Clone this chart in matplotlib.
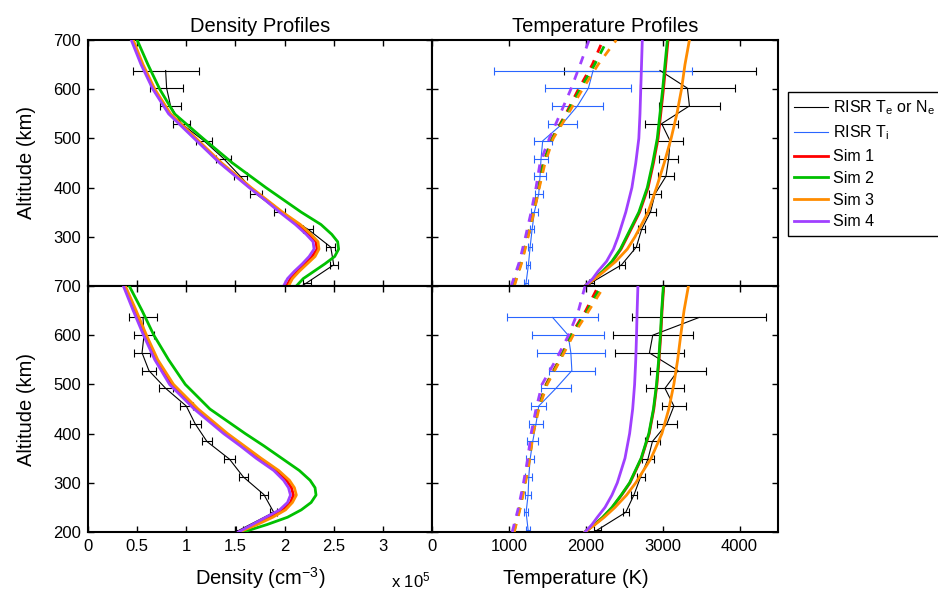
import numpy as np
import matplotlib.pyplot as plt
from matplotlib.lines import Line2D

plt.rcParams['font.family'] = ['Liberation Sans', 'DejaVu Sans']
plt.rcParams['mathtext.default'] = 'regular'

# RISR measurement altitudes (km), top run and bottom run
alt_obs_top = [638, 602, 566, 530, 495, 459, 423, 387, 351, 315, 279, 243, 207, 172]
alt_obs_bot = [636, 600, 564, 528, 492, 456, 420, 384, 348, 312, 276, 240, 204, 168]

# electron density, units of 1e5 cm^-3
ne_top = [0.79, 0.80, 0.84, 0.95, 1.18, 1.38, 1.55, 1.71, 1.95, 2.24, 2.47, 2.50, 2.23, 1.95]
ne_top_err = [0.335, 0.165, 0.11, 0.085, 0.08, 0.075, 0.065, 0.06, 0.055, 0.05, 0.045, 0.04, 0.04, 0.04]
ne_bot = [0.56, 0.57, 0.55, 0.62, 0.79, 1.00, 1.09, 1.21, 1.44, 1.58, 1.79, 1.89, 1.54, 1.35]
ne_bot_err = [0.145, 0.105, 0.08, 0.075, 0.07, 0.065, 0.055, 0.05, 0.055, 0.045, 0.04, 0.035, 0.035, 0.03]

# electron / ion temperatures (K)
te_top = [2965, 3322, 3348, 2987, 3096, 3078, 3043, 2900, 2843, 2726, 2657, 2465, 2074, 1880]
te_top_err = [1244, 620, 396, 217, 174, 124, 98, 76, 67, 48, 40, 39, 37, 35]
ti_top = [2095, 2034, 1892, 1698, 1440, 1418, 1405, 1388, 1332, 1302, 1276, 1254, 1224, 1195]
ti_top_err = [1290, 560, 330, 183, 117, 87, 72, 52, 43, 30, 28, 26, 22, 20]

te_bot = [3473, 2871, 2828, 3200, 3030, 3146, 3056, 2867, 2808, 2713, 2628, 2520, 2150, 1950]
te_bot_err = [873, 523, 450, 365, 248, 158, 126, 98, 74, 53, 42, 42, 42, 40]
ti_bot = [1569, 1771, 1806, 1819, 1612, 1388, 1353, 1310, 1276, 1259, 1250, 1224, 1250, 1240]
ti_bot_err = [595, 470, 442, 302, 194, 99, 86, 71, 54, 43, 36, 30, 28, 26]

# model density profiles (Sim 1..4)
alt_sim_ne = [200, 215, 230, 245, 260, 275, 290, 305, 325, 350, 375, 400, 450, 500, 550, 600, 650, 700]
sim_ne_top = [
    [2.02, 2.06, 2.13, 2.21, 2.28, 2.33, 2.32, 2.25, 2.14, 1.97, 1.81, 1.65, 1.35, 1.09, 0.83, 0.67, 0.55, 0.45],
    [2.12, 2.19, 2.30, 2.41, 2.51, 2.55, 2.54, 2.48, 2.37, 2.17, 1.99, 1.81, 1.47, 1.17, 0.88, 0.73, 0.61, 0.50],
    [2.04, 2.08, 2.15, 2.23, 2.31, 2.35, 2.34, 2.27, 2.16, 1.98, 1.82, 1.66, 1.36, 1.10, 0.84, 0.68, 0.56, 0.46],
    [1.99, 2.03, 2.10, 2.18, 2.25, 2.30, 2.29, 2.22, 2.11, 1.95, 1.80, 1.64, 1.34, 1.08, 0.82, 0.66, 0.54, 0.44],
]
sim_ne_bot = [
    [1.54, 1.70, 1.85, 1.98, 2.06, 2.09, 2.07, 2.02, 1.92, 1.74, 1.57, 1.40, 1.10, 0.85, 0.70, 0.58, 0.47, 0.37],
    [1.58, 1.82, 2.03, 2.17, 2.27, 2.32, 2.31, 2.26, 2.15, 1.97, 1.79, 1.60, 1.24, 0.99, 0.82, 0.67, 0.55, 0.42],
    [1.54, 1.72, 1.88, 2.01, 2.08, 2.12, 2.10, 2.05, 1.94, 1.76, 1.59, 1.42, 1.12, 0.87, 0.71, 0.595, 0.49, 0.38],
    [1.53, 1.67, 1.81, 1.95, 2.03, 2.06, 2.04, 1.99, 1.89, 1.71, 1.55, 1.38, 1.08, 0.83, 0.68, 0.565, 0.46, 0.36],
]

# model electron temperatures (solid)
alt_sim_te = [200, 215, 230, 250, 275, 300, 350, 400, 450, 500, 550, 600, 650, 700]
sim_te_top = [
    [1990, 2112, 2224, 2346, 2458, 2540, 2700, 2810, 2880, 2940, 2975, 3010, 3040, 3070],
    [1990, 2110, 2220, 2340, 2450, 2530, 2690, 2800, 2870, 2930, 2965, 3000, 3030, 3061],
    [1990, 2120, 2240, 2390, 2540, 2640, 2810, 2920, 3020, 3110, 3185, 3245, 3290, 3348],
    [1990, 2090, 2160, 2270, 2360, 2420, 2520, 2600, 2650, 2690, 2705, 2715, 2725, 2735],
]
sim_te_bot = [
    [1990, 2113, 2224, 2345, 2465, 2575, 2725, 2825, 2885, 2925, 2953, 2975, 2992, 3014],
    [1990, 2110, 2220, 2340, 2460, 2570, 2720, 2820, 2880, 2920, 2948, 2970, 2987, 3009],
    [1990, 2120, 2240, 2380, 2530, 2650, 2850, 2990, 3080, 3145, 3195, 3235, 3278, 3335],
    [1990, 2080, 2150, 2250, 2340, 2410, 2510, 2570, 2610, 2635, 2650, 2660, 2668, 2678],
]

# model ion temperatures (dashed)
alt_sim_ti = [200, 250, 300, 350, 400, 450, 500, 550, 600, 650, 700]
sim_ti_top = [
    [1060, 1160, 1240, 1315, 1385, 1445, 1560, 1741, 1905, 2085, 2224],
    [1065, 1165, 1245, 1320, 1390, 1452, 1566, 1752, 1927, 2115, 2280],
    [1070, 1172, 1250, 1326, 1396, 1470, 1577, 1771, 1957, 2160, 2397],
    [1030, 1138, 1216, 1289, 1353, 1405, 1526, 1668, 1806, 1927, 2043],
]
sim_ti_bot = [
    [1060, 1140, 1205, 1262, 1302, 1375, 1483, 1655, 1806, 2000, 2164],
    [1065, 1145, 1210, 1268, 1308, 1382, 1490, 1662, 1815, 2020, 2200],
    [1070, 1150, 1215, 1274, 1315, 1390, 1497, 1670, 1836, 2040, 2240],
    [1043, 1125, 1190, 1246, 1289, 1353, 1431, 1612, 1776, 1905, 1991],
]

sim_colors = ['#ff0000', '#00c000', '#ff8c00', '#a040ff']
risr_blue = '#2a66ff'

fig = plt.figure(figsize=(9.38, 5.96), dpi=100)
W, H = 938.0, 596.0
ax_ne_top = fig.add_axes([88 / W, 1 - 286 / H, 344 / W, 246 / H])
ax_t_top = fig.add_axes([432 / W, 1 - 286 / H, 346 / W, 246 / H])
ax_ne_bot = fig.add_axes([88 / W, 1 - 532 / H, 344 / W, 246 / H])
ax_t_bot = fig.add_axes([432 / W, 1 - 532 / H, 346 / W, 246 / H])

eb_kw = dict(lw=0.8, elinewidth=0.8, capsize=3, capthick=0.8, zorder=2)

# density panels
for ax, alt_obs, ne, ne_err, sims in [(ax_ne_top, alt_obs_top, ne_top, ne_top_err, sim_ne_top),
                                      (ax_ne_bot, alt_obs_bot, ne_bot, ne_bot_err, sim_ne_bot)]:
    ax.errorbar(ne, alt_obs, xerr=ne_err, color='k', **eb_kw)
    for vals, c in zip(sims, sim_colors):
        ax.plot(vals, alt_sim_ne, color=c, lw=2, zorder=3)
    ax.set_xlim(0, 3.5)
    ax.set_xticks(np.arange(0, 3.01, 0.5))

# temperature panels
for ax, alt_obs, te, te_err, ti, ti_err, s_te, s_ti in [
        (ax_t_top, alt_obs_top, te_top, te_top_err, ti_top, ti_top_err, sim_te_top, sim_ti_top),
        (ax_t_bot, alt_obs_bot, te_bot, te_bot_err, ti_bot, ti_bot_err, sim_te_bot, sim_ti_bot)]:
    ax.errorbar(te, alt_obs, xerr=te_err, color='k', **eb_kw)
    ax.errorbar(ti, alt_obs, xerr=ti_err, color=risr_blue, **eb_kw)
    for vals, c in zip(s_te, sim_colors):
        ax.plot(vals, alt_sim_te, color=c, lw=2, zorder=3)
    for vals, c in zip(s_ti, sim_colors):
        ax.plot(vals, alt_sim_ti, color=c, lw=2, ls=(0, (3, 3)), zorder=3)
    ax.set_xlim(0, 4500)
    ax.set_xticks([0, 1000, 2000, 3000, 4000])
    ax.tick_params(labelleft=False)

for ax in [ax_ne_top, ax_t_top, ax_ne_bot, ax_t_bot]:
    ax.set_ylim(200, 700)
    ax.tick_params(direction='in', top=True, right=True, length=4, width=1,
                   labelsize=12, pad=5)
    for sp in ax.spines.values():
        sp.set_linewidth(1.5)

for ax in [ax_ne_top, ax_t_top]:
    ax.tick_params(labelbottom=False)
ax_ne_top.set_yticks([300, 400, 500, 600, 700])
ax_t_top.set_yticks([300, 400, 500, 600, 700])
ax_ne_bot.set_yticks([200, 300, 400, 500, 600, 700])
ax_t_bot.set_yticks([200, 300, 400, 500, 600, 700])
ax_ne_bot.set_xticklabels(['0', '0.5', '1', '1.5', '2', '2.5', '3'])

for ax in [ax_ne_top, ax_ne_bot]:
    ax.set_ylabel('Altitude (km)', fontsize=14.5)
    ax.yaxis.set_label_coords(-0.15, 0.5)

ax_ne_top.set_title('Density Profiles', fontsize=14.5, pad=6)
ax_t_top.set_title('Temperature Profiles', fontsize=14.5, pad=6)

fig.text(260 / W, 1 - 578 / H, 'Density (cm$^{-3}$)', fontsize=14.5, ha='center', va='center')
fig.text(411 / W, 1 - 580 / H, 'x 10$^{5}$', fontsize=12, ha='center', va='center')
fig.text(576 / W, 1 - 578 / H, 'Temperature (K)', fontsize=14.5, ha='center', va='center')

handles = [Line2D([], [], color='k', lw=0.8), Line2D([], [], color=risr_blue, lw=0.8)]
handles += [Line2D([], [], color=c, lw=2) for c in sim_colors]
labels = ['RISR T$_e$ or N$_e$', 'RISR T$_i$', 'Sim 1', 'Sim 2', 'Sim 3', 'Sim 4']
leg = fig.legend(handles, labels, loc='upper left', bbox_to_anchor=(788 / W, 1 - 92 / H),
                 fontsize=11.5, frameon=True, fancybox=False, edgecolor='k', framealpha=1,
                 borderaxespad=0, handlelength=2.1, handletextpad=0.3, labelspacing=0.42,
                 borderpad=0.4)
leg.get_frame().set_linewidth(1.0)

fig.savefig('out.png', dpi=100)
